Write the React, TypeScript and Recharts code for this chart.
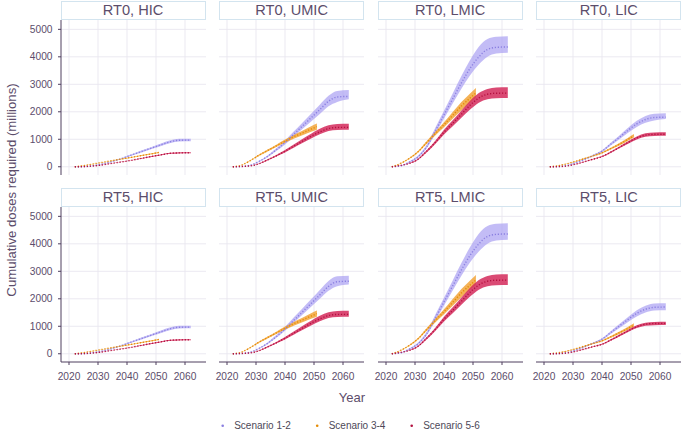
import { ComposedChart, Area, Line, XAxis, YAxis, CartesianGrid } from 'recharts'

const TEXT = '#5c4d6b'
const AXIS = '#4e3f5e'
const GRID = '#e9e7ef'
const STRIP_BORDER = '#d3e4ef'

const PURPLE = '#8a7fe0'
const PURPLE_FILL = '#a99ff2'
const ORANGE = '#e58c05'
const ORANGE_FILL = '#f2a43a'
const RED = '#b3103f'
const RED_FILL = '#d42a5c'

const X_TICKS = [2020, 2030, 2040, 2050, 2060]
const Y_TICKS = [0, 1000, 2000, 3000, 4000, 5000]

// scenario 1-2 and 5-6 run to 2062, scenario 3-4 stops in 2051
const YEARS_LONG = [2022, 2025, 2028, 2031, 2034, 2037, 2040, 2043, 2046, 2049, 2052, 2055, 2058, 2062]
const YEARS_SHORT = [2022, 2025, 2028, 2031, 2034, 2037, 2040, 2043, 2046, 2049, 2051]

// HIC (same in RT0 and RT5)
const HIC_S12_MID = [0, 5, 35, 90, 165, 258, 370, 480, 590, 700, 810, 910, 965, 970]
const HIC_S12_LO = [0, 4, 32, 83, 154, 242, 347, 452, 556, 660, 765, 860, 915, 925]
const HIC_S12_HI = [0, 6, 38, 97, 176, 274, 393, 508, 624, 740, 855, 960, 1015, 1020]
const HIC_S34_MID = [0, 40, 95, 150, 205, 262, 315, 370, 425, 480, 520]
const HIC_S34_LO = [0, 38, 91, 144, 197, 252, 302, 355, 408, 461, 500]
const HIC_S34_HI = [0, 42, 99, 156, 213, 272, 328, 385, 442, 499, 540]
const HIC_S56_MID = [0, 5, 25, 60, 110, 160, 205, 265, 325, 385, 440, 490, 505, 510]
const HIC_S56_LO = [0, 5, 24, 57, 105, 153, 196, 254, 311, 368, 421, 470, 485, 490]
const HIC_S56_HI = [0, 5, 26, 63, 115, 167, 214, 276, 339, 402, 459, 510, 525, 530]

// UMIC
const UMIC_S12_MID = [0, 10, 60, 190, 380, 620, 880, 1180, 1480, 1780, 2080, 2380, 2540, 2560]
const UMIC_S12_LO = [0, 8, 55, 175, 350, 570, 810, 1090, 1370, 1650, 1920, 2200, 2360, 2460]
const UMIC_S12_HI = [0, 12, 65, 205, 410, 670, 950, 1280, 1600, 1930, 2260, 2580, 2760, 2790]
const UMIC5_S12_MID = [0, 10, 60, 190, 380, 620, 900, 1210, 1520, 1830, 2140, 2450, 2620, 2640]
const UMIC5_S12_LO = [0, 8, 55, 175, 350, 580, 840, 1130, 1420, 1710, 2000, 2290, 2460, 2520]
const UMIC5_S12_HI = [0, 12, 65, 205, 410, 680, 980, 1320, 1650, 1980, 2320, 2650, 2820, 2840]
const UMIC_S34_MID = [0, 60, 220, 420, 590, 760, 930, 1090, 1230, 1370, 1460]
const UMIC_S34_LO = [0, 55, 205, 395, 555, 715, 870, 1020, 1150, 1270, 1350]
const UMIC_S34_HI = [0, 65, 235, 445, 625, 805, 990, 1160, 1310, 1470, 1570]
const UMIC_S56_MID = [0, 10, 30, 110, 250, 400, 565, 750, 930, 1110, 1270, 1390, 1430, 1435]
const UMIC_S56_LO = [0, 9, 27, 100, 230, 370, 520, 690, 860, 1030, 1180, 1300, 1340, 1350]
const UMIC_S56_HI = [0, 11, 33, 120, 270, 430, 610, 810, 1010, 1200, 1380, 1510, 1560, 1565]

// LMIC (same in RT0 and RT5)
const LMIC_S12_MID = [0, 30, 170, 360, 720, 1300, 1890, 2470, 3050, 3580, 4000, 4270, 4345, 4360]
const LMIC_S12_LO = [0, 25, 150, 320, 660, 1200, 1760, 2300, 2840, 3330, 3720, 4000, 4120, 4150]
const LMIC_S12_HI = [0, 35, 190, 400, 790, 1420, 2040, 2670, 3300, 3880, 4370, 4650, 4730, 4750]
const LMIC_S34_MID = [0, 120, 300, 540, 880, 1210, 1530, 1870, 2210, 2500, 2680]
const LMIC_S34_LO = [0, 110, 280, 510, 830, 1140, 1440, 1750, 2060, 2330, 2500]
const LMIC_S34_HI = [0, 130, 320, 570, 930, 1280, 1620, 1990, 2360, 2670, 2870]
const LMIC_S56_MID = [0, 50, 120, 270, 560, 890, 1260, 1580, 1910, 2240, 2500, 2640, 2675, 2680]
const LMIC_S56_LO = [0, 45, 110, 250, 520, 830, 1170, 1470, 1780, 2080, 2330, 2460, 2495, 2500]
const LMIC_S56_HI = [0, 55, 130, 290, 600, 950, 1350, 1690, 2050, 2400, 2680, 2830, 2880, 2890]

// LIC
const LIC_S12_MID = [0, 10, 50, 150, 270, 410, 566, 820, 1070, 1330, 1560, 1720, 1790, 1805]
const LIC_S12_LO = [0, 9, 46, 140, 255, 385, 530, 770, 1000, 1240, 1450, 1600, 1680, 1735]
const LIC_S12_HI = [0, 11, 54, 160, 285, 435, 600, 870, 1140, 1420, 1670, 1850, 1930, 1950]
const LIC_S34_MID = [0, 40, 110, 200, 300, 400, 506, 660, 820, 1000, 1125]
const LIC_S34_LO = [0, 38, 105, 190, 285, 380, 480, 625, 775, 945, 1060]
const LIC_S34_HI = [0, 42, 115, 210, 315, 420, 530, 695, 865, 1055, 1190]
const LIC_S56_MID = [0, 5, 30, 95, 185, 275, 370, 530, 705, 885, 1050, 1150, 1180, 1185]
const LIC_S56_LO = [0, 5, 28, 90, 176, 262, 352, 503, 670, 840, 995, 1090, 1120, 1125]
const LIC_S56_HI = [0, 5, 32, 100, 194, 288, 388, 557, 740, 930, 1105, 1215, 1250, 1255]
const LIC5_S12_MID = [0, 10, 45, 140, 255, 385, 530, 770, 1010, 1250, 1470, 1620, 1690, 1700]
const LIC5_S12_LO = [0, 9, 42, 130, 240, 360, 495, 720, 940, 1160, 1360, 1500, 1570, 1580]
const LIC5_S12_HI = [0, 11, 48, 150, 270, 410, 565, 820, 1080, 1340, 1580, 1750, 1830, 1840]
const LIC5_S34_MID = [0, 38, 100, 185, 280, 375, 470, 615, 765, 925, 1040]
const LIC5_S34_LO = [0, 36, 95, 175, 265, 355, 445, 580, 720, 870, 980]
const LIC5_S34_HI = [0, 40, 105, 195, 295, 395, 495, 650, 810, 980, 1110]
const LIC5_S56_MID = [0, 5, 28, 90, 175, 260, 345, 500, 665, 835, 985, 1075, 1100, 1105]
const LIC5_S56_LO = [0, 5, 26, 85, 166, 247, 328, 475, 632, 795, 935, 1020, 1040, 1045]
const LIC5_S56_HI = [0, 5, 30, 95, 184, 273, 362, 525, 698, 875, 1035, 1130, 1160, 1165]

type Pt = { year: number; mid: number; band: [number, number] }

const mk = (years: number[], mid: number[], lo: number[], hi: number[]): Pt[] =>
  years.map((year, i) => ({ year, mid: mid[i], band: [lo[i], hi[i]] }))

const PANELS = [
  { title: 'RT0, HIC', s12: mk(YEARS_LONG, HIC_S12_MID, HIC_S12_LO, HIC_S12_HI), s34: mk(YEARS_SHORT, HIC_S34_MID, HIC_S34_LO, HIC_S34_HI), s56: mk(YEARS_LONG, HIC_S56_MID, HIC_S56_LO, HIC_S56_HI) },
  { title: 'RT0, UMIC', s12: mk(YEARS_LONG, UMIC_S12_MID, UMIC_S12_LO, UMIC_S12_HI), s34: mk(YEARS_SHORT, UMIC_S34_MID, UMIC_S34_LO, UMIC_S34_HI), s56: mk(YEARS_LONG, UMIC_S56_MID, UMIC_S56_LO, UMIC_S56_HI) },
  { title: 'RT0, LMIC', s12: mk(YEARS_LONG, LMIC_S12_MID, LMIC_S12_LO, LMIC_S12_HI), s34: mk(YEARS_SHORT, LMIC_S34_MID, LMIC_S34_LO, LMIC_S34_HI), s56: mk(YEARS_LONG, LMIC_S56_MID, LMIC_S56_LO, LMIC_S56_HI) },
  { title: 'RT0, LIC', s12: mk(YEARS_LONG, LIC_S12_MID, LIC_S12_LO, LIC_S12_HI), s34: mk(YEARS_SHORT, LIC_S34_MID, LIC_S34_LO, LIC_S34_HI), s56: mk(YEARS_LONG, LIC_S56_MID, LIC_S56_LO, LIC_S56_HI) },
  { title: 'RT5, HIC', s12: mk(YEARS_LONG, HIC_S12_MID, HIC_S12_LO, HIC_S12_HI), s34: mk(YEARS_SHORT, HIC_S34_MID, HIC_S34_LO, HIC_S34_HI), s56: mk(YEARS_LONG, HIC_S56_MID, HIC_S56_LO, HIC_S56_HI) },
  { title: 'RT5, UMIC', s12: mk(YEARS_LONG, UMIC5_S12_MID, UMIC5_S12_LO, UMIC5_S12_HI), s34: mk(YEARS_SHORT, UMIC_S34_MID, UMIC_S34_LO, UMIC_S34_HI), s56: mk(YEARS_LONG, UMIC_S56_MID, UMIC_S56_LO, UMIC_S56_HI) },
  { title: 'RT5, LMIC', s12: mk(YEARS_LONG, LMIC_S12_MID, LMIC_S12_LO, LMIC_S12_HI), s34: mk(YEARS_SHORT, LMIC_S34_MID, LMIC_S34_LO, LMIC_S34_HI), s56: mk(YEARS_LONG, LMIC_S56_MID, LMIC_S56_LO, LMIC_S56_HI) },
  { title: 'RT5, LIC', s12: mk(YEARS_LONG, LIC5_S12_MID, LIC5_S12_LO, LIC5_S12_HI), s34: mk(YEARS_SHORT, LIC5_S34_MID, LIC5_S34_LO, LIC5_S34_HI), s56: mk(YEARS_LONG, LIC5_S56_MID, LIC5_S56_LO, LIC5_S56_HI) },
]

const LEGEND = [
  { label: 'Scenario 1-2', color: PURPLE },
  { label: 'Scenario 3-4', color: ORANGE },
  { label: 'Scenario 5-6', color: RED },
]

const FONT = '"Liberation Sans", Arial, sans-serif'
const PLOT_W = 145
const PLOT_H = 155
const STRIP_H = 18.5
const Y_AXIS_W = 60
const X_AXIS_H = 26
const COL_STEP = 158.6
const LEFT0 = 60.5
const STRIP_TOP = [1, 188]
const PLOT_TOP = [20, 206.5]

function Panel({ p, col, row }: { p: typeof PANELS[number]; col: number; row: number }) {
  const left = LEFT0 + col * COL_STEP
  const showY = col === 0
  const showX = row === 1
  const w = PLOT_W + (showY ? Y_AXIS_W : 0)
  const h = PLOT_H + (showX ? X_AXIS_H : 0)
  const series = [
    { d: p.s12, c: PURPLE, f: PURPLE_FILL, o: 0.7 },
    { d: p.s34, c: ORANGE, f: ORANGE_FILL, o: 0.85 },
    { d: p.s56, c: RED, f: RED_FILL, o: 0.85 },
  ]
  return (
    <>
      <div
        style={{
          position: 'absolute', left, top: STRIP_TOP[row], width: PLOT_W, height: STRIP_H,
          boxSizing: 'border-box', border: `1px solid ${STRIP_BORDER}`, background: '#fff',
          color: TEXT, fontFamily: FONT, fontSize: 14.6, lineHeight: `${STRIP_H - 2}px`, textAlign: 'center',
        }}
      >
        {p.title}
      </div>
      <div style={{ position: 'absolute', left: left - (showY ? Y_AXIS_W : 0), top: PLOT_TOP[row] }}>
        <ComposedChart width={w} height={h} margin={{ top: 0, right: 0, bottom: 0, left: 0 }}>
          <CartesianGrid stroke={GRID} strokeWidth={0.9} horizontalValues={Y_TICKS} verticalValues={X_TICKS} />
          <XAxis
            type="number"
            dataKey="year"
            domain={[2017.24, 2067.24]}
            allowDataOverflow
            ticks={X_TICKS}
            interval={0}
            hide={!showX}
            height={X_AXIS_H}
            stroke={AXIS}
            tickSize={3}
            tickMargin={8}
            tick={{ fill: TEXT, fontSize: 10.2, fontFamily: FONT }}
          />
          <YAxis
            type="number"
            domain={[-300, 5340]}
            allowDataOverflow
            ticks={Y_TICKS}
            interval={0}
            hide={!showY}
            width={Y_AXIS_W}
            stroke={AXIS}
            tickSize={3}
            tickMargin={5.5}
            tick={{ fill: TEXT, fontSize: 10.2, fontFamily: FONT }}
          />
          {series.map((s, i) => (
            <Area
              key={'a' + i}
              data={s.d}
              dataKey="band"
              type="monotone"
              stroke="none"
              fill={s.f}
              fillOpacity={s.o}
              isAnimationActive={false}
            />
          ))}
          {series.map((s, i) => (
            <Line
              key={'l' + i}
              data={s.d}
              dataKey="mid"
              type="monotone"
              stroke={s.c}
              strokeWidth={1.4}
              strokeDasharray="1.2 1.8"
              dot={false}
              isAnimationActive={false}
            />
          ))}
        </ComposedChart>
      </div>
    </>
  )
}

export default function App() {
  return (
    <div style={{ position: 'absolute', left: 0, top: 0, width: 683, height: 431, background: '#fff', overflow: 'hidden' }}>
      <style>{'.recharts-surface { overflow: visible; } .recharts-wrapper { overflow: visible; }'}</style>
      {PANELS.map((p, i) => (
        <Panel key={p.title} p={p} col={i % 4} row={Math.floor(i / 4)} />
      ))}
      <svg width={683} height={431} style={{ position: 'absolute', left: 0, top: 0, pointerEvents: 'none' }}>
        <text
          x={11}
          y={190}
          transform="rotate(-90 11 190)"
          textAnchor="middle"
          dominantBaseline="central"
          fontSize={13.2}
          fontFamily={FONT}
          fill={TEXT}
        >
          Cumulative doses required (millions)
        </text>
        <text x={352} y={397.5} textAnchor="middle" dominantBaseline="central" fontSize={13} fontFamily={FONT} fill={TEXT}>
          Year
        </text>
        {LEGEND.map((l, i) => (
          <g key={l.label} transform={`translate(${222.7 + i * 94.5}, 425.7)`}>
            <circle cx={0} cy={0} r={1.3} fill={l.color} />
            <text x={11.5} y={0} dominantBaseline="central" fontSize={10} fontFamily={FONT} fill="#4d4858">
              {l.label}
            </text>
          </g>
        ))}
      </svg>
    </div>
  )
}
